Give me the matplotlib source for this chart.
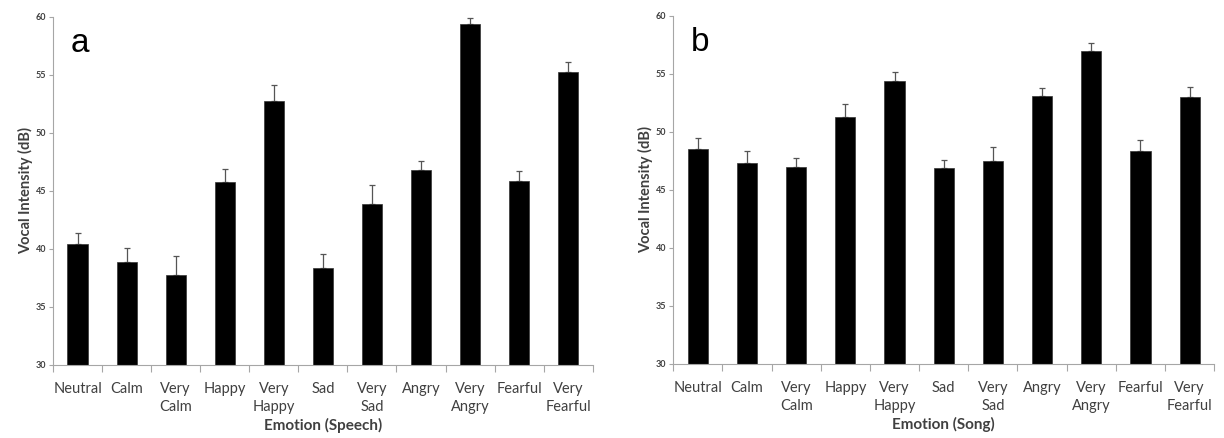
import numpy as np
import matplotlib
matplotlib.use("Agg")
import matplotlib.pyplot as plt

categories = ["Neutral", "Calm", "Very\nCalm", "Happy", "Very\nHappy", "Sad",
              "Very\nSad", "Angry", "Very\nAngry", "Fearful", "Very\nFearful"]

speech_mean = [40.4, 38.9, 37.8, 45.8, 52.8, 38.4, 43.9, 46.8, 59.4, 45.9, 55.3]
speech_err = [1.0, 1.2, 1.6, 1.1, 1.3, 1.2, 1.6, 0.8, 0.5, 0.8, 0.8]

song_mean = [48.5, 47.3, 47.0, 51.3, 54.4, 46.9, 47.5, 53.1, 57.0, 48.4, 53.0]
song_err = [1.0, 1.1, 0.8, 1.1, 0.8, 0.7, 1.2, 0.7, 0.7, 0.9, 0.9]

plt.rcParams['font.family'] = ['Lato', 'DejaVu Sans']

fig = plt.figure(figsize=(12.24, 4.38), dpi=100)
ax1 = fig.add_axes([0.0433, 0.1667, 0.441, 0.7945])
ax2 = fig.add_axes([0.550, 0.1690, 0.442, 0.7945])

grey = "#a6a6a6"
txt = "#404040"

def draw(ax, means, errs, letter, xlab):
    x = np.arange(len(categories))
    yerr = [np.zeros(len(errs)), errs]
    ax.bar(x, np.array(means) - 30, bottom=30, width=0.41, color="black",
           edgecolor="#333333", linewidth=0.5, zorder=2)
    ax.errorbar(x, means, yerr=yerr, fmt="none", ecolor="#555555",
                elinewidth=0.9, capsize=2, capthick=0.9, zorder=1)
    ax.set_ylim(30, 60)
    ax.set_xlim(-0.5, len(categories) - 0.5)
    ax.set_yticks(np.arange(30, 61, 5))
    ax.set_xticks(x)
    ax.set_xticklabels(categories, fontsize=10.5, color=txt, linespacing=1.4)
    ax.set_xticks(np.arange(-0.5, len(categories), 1), minor=True)
    ax.tick_params(axis="x", which="major", length=0, pad=12)
    ax.tick_params(axis="x", which="minor", length=5, color=grey, width=0.8)
    ax.tick_params(axis="y", length=3, color=grey, width=0.8, labelsize=6.5,
                   labelcolor=txt, pad=2)
    for lab in ax.get_yticklabels():
        lab.set_fontweight("bold")
    for s in ["top", "right"]:
        ax.spines[s].set_visible(False)
    for s in ["left", "bottom"]:
        ax.spines[s].set_color(grey)
        ax.spines[s].set_linewidth(0.8)
    ax.set_ylabel("Vocal Intensity (dB)", fontsize=10.5, fontweight="bold",
                  color=txt, labelpad=2)
    ax.set_xlabel(xlab, fontsize=11, fontweight="bold", color=txt, labelpad=3)
    ax.text(0.032, 0.925, letter, transform=ax.transAxes, fontsize=24,
            family="Liberation Sans", va="center", ha="left", color="black")

draw(ax1, speech_mean, speech_err, "a", "Emotion (Speech)")
draw(ax2, song_mean, song_err, "b", "Emotion (Song)")

fig.savefig("out.png", dpi=100)
